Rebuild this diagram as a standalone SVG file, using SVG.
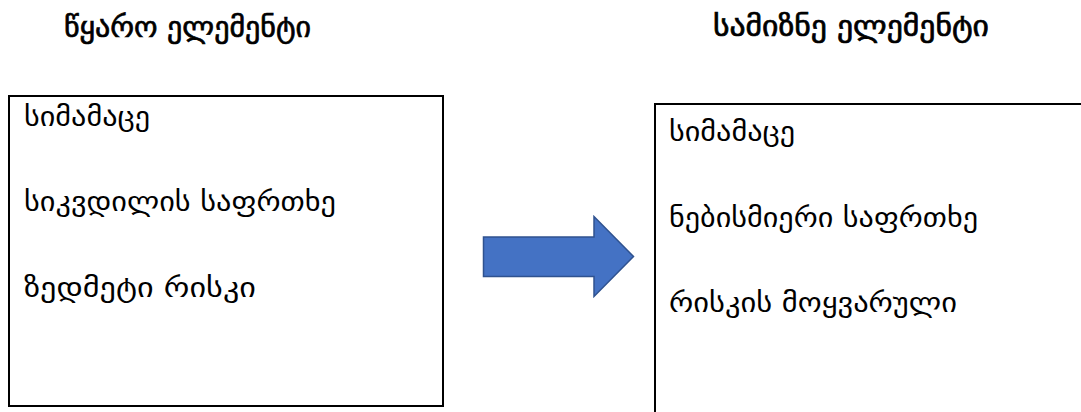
<svg xmlns="http://www.w3.org/2000/svg" width="1081" height="412" viewBox="0 0 1081 412">
<style>
.title{font-family:"DejaVu Sans",sans-serif;font-size:29px;fill:#000;stroke:#000;stroke-width:0.7}
.item{font-family:"DejaVu Sans",sans-serif;font-size:27px;fill:#000}
.box{fill:#fff;stroke:#000;stroke-width:2}
</style>
<rect width="1081" height="412" fill="#fff"/>
<g id="title-source"><text class="title" x="64" y="37" textLength="247" lengthAdjust="spacingAndGlyphs">წყარო ელემენტი</text></g>
<g id="title-target"><text class="title" x="713" y="36" textLength="276" lengthAdjust="spacingAndGlyphs">სამიზნე ელემენტი</text></g>
<g id="source">
<rect class="box" x="9" y="96" width="434" height="310"/>
<text class="item" x="24" y="126" textLength="126" lengthAdjust="spacingAndGlyphs">სიმამაცე</text>
<text class="item" x="24" y="211" textLength="312" lengthAdjust="spacingAndGlyphs">სიკვდილის საფრთხე</text>
<text class="item" x="24" y="297" textLength="232" lengthAdjust="spacingAndGlyphs">ზედმეტი რისკი</text>
</g>
<g id="target">
<rect class="box" x="655" y="104" width="440" height="320"/>
<text class="item" x="669" y="141" textLength="126" lengthAdjust="spacingAndGlyphs">სიმამაცე</text>
<text class="item" x="669" y="227" textLength="309" lengthAdjust="spacingAndGlyphs">ნებისმიერი საფრთხე</text>
<text class="item" x="669" y="312" textLength="288" lengthAdjust="spacingAndGlyphs">რისკის მოყვარული</text>
</g>
<g id="connectors">
<path d="M483.5 237 H594 V216.5 L633.5 256.5 L594 296.5 V276.5 H483.5 Z" fill="#4472C4" stroke="#2F528F" stroke-width="1.5"/>
</g>
</svg>
